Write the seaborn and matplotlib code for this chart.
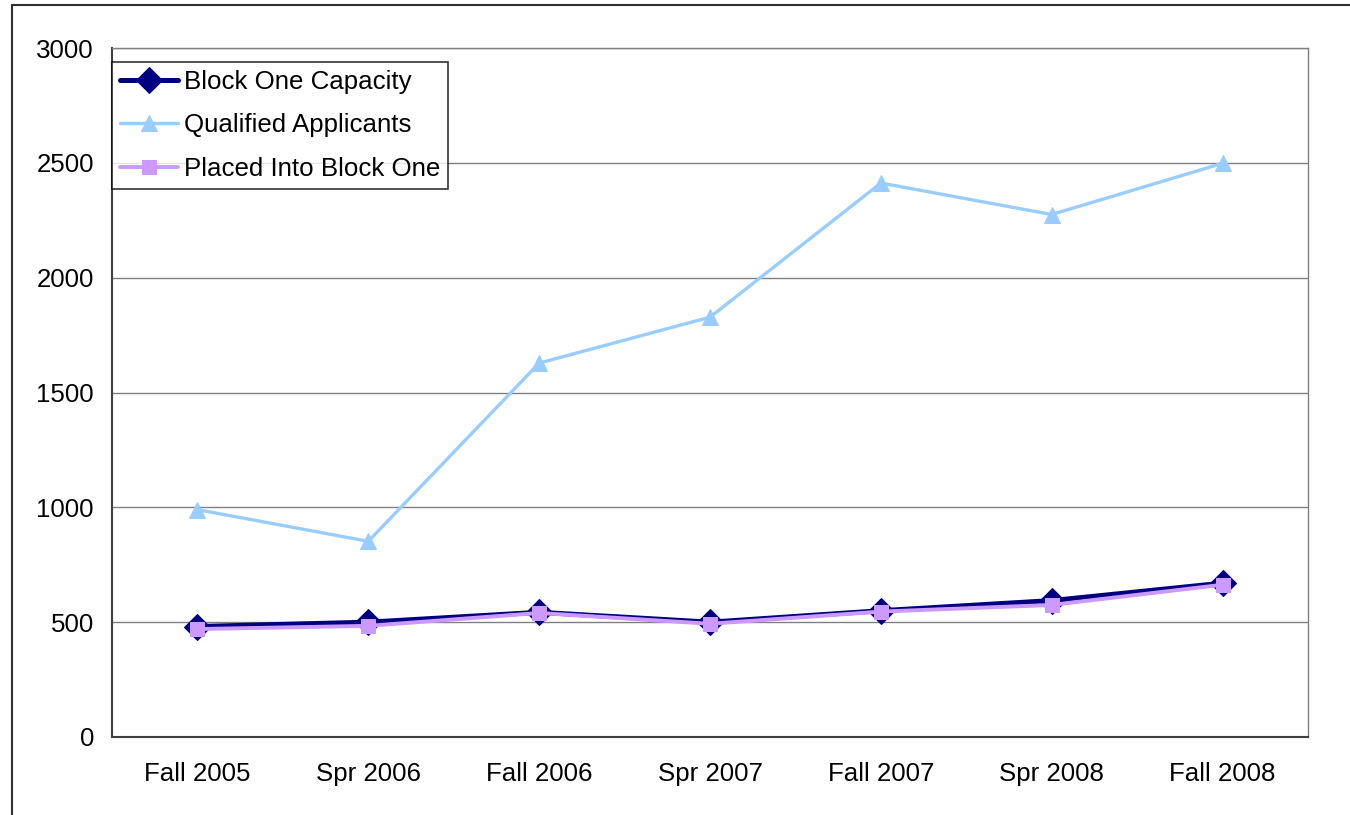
import pandas as pd
import matplotlib.pyplot as plt
import seaborn as sns
from matplotlib.patches import Rectangle
from matplotlib.ticker import FixedLocator, NullFormatter

# Data
terms = ["Fall 2005", "Spr 2006", "Fall 2006", "Spr 2007", "Fall 2007", "Spr 2008", "Fall 2008"]
capacity = [481, 500, 543, 500, 550, 594, 670]
qualified = [990, 852, 1628, 1828, 2412, 2275, 2498]
placed = [470, 484, 540, 493, 546, 575, 663]

df = pd.DataFrame({"Term": terms, "Block One Capacity": capacity,
                   "Qualified Applicants": qualified, "Placed Into Block One": placed})

sns.set_style("white")
plt.rcParams["font.family"] = ["Liberation Sans", "DejaVu Sans"]
plt.rcParams["font.size"] = 18.6
plt.rcParams["text.color"] = "black"

fig = plt.figure(figsize=(13.5, 8.15), dpi=100)
ax = fig.add_axes([112 / 1350, 1 - 737 / 815, (1308 - 112) / 1350, (737 - 48) / 815])

styles = [
    ("Block One Capacity", "#000080", "D", 13, 3.6),
    ("Qualified Applicants", "#99CCFF", "^", 11, 2.4),
    ("Placed Into Block One", "#CC99FF", "s", 9.5, 2.8),
]
for name, color, marker, ms, lw in styles:
    sns.lineplot(data=df, x="Term", y=name, ax=ax, color=color, marker=marker,
                 markersize=ms, linewidth=lw, markeredgecolor=color, label=name,
                 sort=False)

ax.set_xlim(-0.5, 6.5)
ax.set_ylim(0, 3000)
ax.set_yticks(range(0, 3001, 500))
ax.set_xlabel("")
ax.set_ylabel("")

# category labels at centres, tick marks between categories
ax.set_xticks(range(len(terms)))
ax.set_xticklabels(terms)
ax.xaxis.set_minor_locator(FixedLocator([i - 0.5 for i in range(len(terms) + 1)]))
ax.xaxis.set_minor_formatter(NullFormatter())
ax.tick_params(axis="x", which="major", length=0, pad=18, labelsize=18.6, labelcolor="black")
ax.tick_params(axis="x", which="minor", length=7, width=1.2, color="#404040", direction="out")
ax.tick_params(axis="y", length=7, width=1.2, color="#404040", direction="out", pad=6,
               labelsize=18.6, labelcolor="black")

ax.grid(axis="y", color="#808080", linewidth=1)
ax.set_axisbelow(True)
for side in ["left", "bottom"]:
    ax.spines[side].set_color("#404040")
    ax.spines[side].set_linewidth(1.5)
for side in ["top", "right"]:
    ax.spines[side].set_color("#808080")
    ax.spines[side].set_linewidth(1)

leg = ax.legend(loc="upper left", bbox_to_anchor=(0.0, 0.98), frameon=True, fancybox=False,
                edgecolor="black", fontsize=18.6, handlelength=2.25, handletextpad=0.2,
                borderpad=0.32, labelspacing=0.75, borderaxespad=0)
leg.get_frame().set_linewidth(1.2)
for t in leg.get_texts():
    t.set_color("black")

# outer chart-area border
fig.patches.append(Rectangle((12 / 1350, -0.1), 1.2, 1 - 5 / 815 + 0.1, transform=fig.transFigure,
                             fill=False, edgecolor="#303030", linewidth=1.5))

fig.savefig("out.png", dpi=100)
